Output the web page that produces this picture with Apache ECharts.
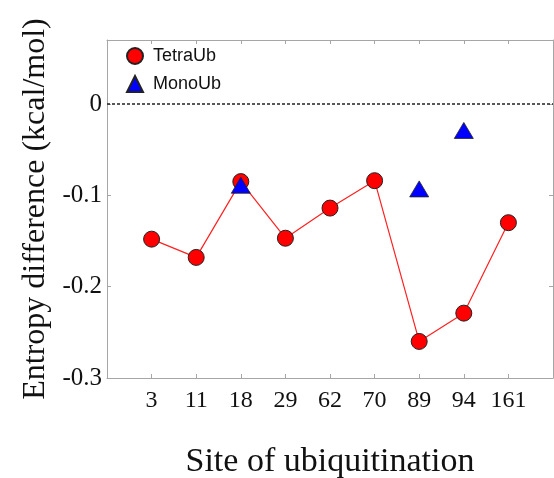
<!DOCTYPE html>
<html>
<head>
<meta charset="utf-8">
<script src="https://cdn.jsdelivr.net/npm/echarts@6/dist/echarts.min.js"></script>
<style>
  html, body { margin: 0; padding: 0; background: #fff; }
  #chart { width: 554px; height: 478px; }
</style>
</head>
<body>
<div id="chart"></div>
<script>
// Ubiquitination sites along the x axis
const sites = ['3', '11', '18', '29', '62', '70', '89', '94', '161'];
// Entropy difference (kcal/mol) per site
const tetraUb = [-0.148, -0.168, -0.085, -0.147, -0.114, -0.084, -0.260, -0.229, -0.130];
const monoUb = [null, null, -0.089, null, null, null, -0.093, -0.029, null];
const yTicks = [-0.3, -0.2, -0.1, 0];

const serif = 'Liberation Serif, Times New Roman, serif';
const axisGray = '#a6a6a6';

const toPoints = arr => arr
  .map((v, i) => (v === null ? null : [i + 1, v]))
  .filter(p => p !== null);

const siteLabel = v => {
  const i = Math.round(v);
  return (i >= 1 && i <= sites.length) ? sites[i - 1] : '';
};
const yLabel = v => {
  if (Math.abs(v) < 1e-9) return '0';
  const t = yTicks.find(x => Math.abs(x - v) < 1e-9);
  return t === undefined ? '' : t.toFixed(1);
};

const frameLine = { show: true, onZero: false, lineStyle: { color: axisGray, width: 1 } };
const innerTick = { show: true, inside: true, length: 4, lineStyle: { color: axisGray } };

const chart = echarts.init(document.getElementById('chart'), null, { renderer: 'canvas' });
chart.setOption({
  animation: false,
  backgroundColor: '#fff',
  grid: { left: 107, right: 1, top: 40, bottom: 100, containLabel: false, outerBoundsMode: 'none' },
  legend: {
    orient: 'vertical',
    left: 121,
    top: 42,
    itemWidth: 16,
    itemHeight: 16,
    itemGap: 10,
    textStyle: { fontFamily: 'Liberation Sans, Arial, sans-serif', fontSize: 18, color: '#111', padding: [0, 0, 0, 5] },
    data: [
      { name: 'TetraUb', icon: 'circle' },
      { name: 'MonoUb', icon: 'triangle' }
    ]
  },
  xAxis: [
    {
      type: 'value', min: 0, max: sites.length + 1, interval: 1,
      name: 'Site of ubiquitination', nameLocation: 'middle', nameGap: 67,
      nameTextStyle: { fontFamily: serif, fontSize: 34, color: '#111' },
      axisLine: frameLine,
      axisTick: innerTick,
      axisLabel: { formatter: siteLabel, fontFamily: serif, fontSize: 24, color: '#111', margin: 11,
                   showMinLabel: false, showMaxLabel: false },
      splitLine: { show: false }
    },
    {
      type: 'value', position: 'top', min: 0, max: sites.length + 1, interval: 1,
      axisLine: frameLine,
      axisTick: innerTick,
      axisLabel: { show: false },
      splitLine: { show: false }
    }
  ],
  yAxis: [
    {
      type: 'value', min: -0.3, max: 0.07, interval: 0.1,
      name: 'Entropy difference (kcal/mol)', nameLocation: 'middle', nameGap: 55,
      nameTextStyle: { fontFamily: serif, fontSize: 32, color: '#111' },
      axisLine: frameLine,
      axisTick: innerTick,
      axisLabel: { formatter: yLabel, fontFamily: serif, fontSize: 25, color: '#111', margin: 5,
                   showMaxLabel: false },
      splitLine: { show: false }
    },
    {
      type: 'value', position: 'right', min: -0.3, max: 0.07, interval: 0.1,
      axisLine: frameLine,
      axisTick: innerTick,
      axisLabel: { show: false },
      splitLine: { show: false }
    }
  ],
  series: [
    {
      name: 'TetraUb',
      type: 'line',
      data: toPoints(tetraUb),
      symbol: 'circle',
      symbolSize: 16,
      lineStyle: { color: '#ff2020', width: 1.2 },
      itemStyle: { color: '#ff0000', borderColor: '#222', borderWidth: 1 },
      markLine: {
        silent: true,
        symbol: 'none',
        label: { show: false },
        lineStyle: { color: '#222', type: [3, 2], width: 1.6 },
        data: [{ yAxis: 0 }]
      },
      z: 2
    },
    {
      name: 'MonoUb',
      type: 'scatter',
      data: toPoints(monoUb),
      symbol: 'triangle',
      symbolSize: [19, 16],
      itemStyle: { color: '#0000ff', borderColor: '#222', borderWidth: 0.8, opacity: 1 },
      z: 3
    }
  ]
});
</script>
</body>
</html>
